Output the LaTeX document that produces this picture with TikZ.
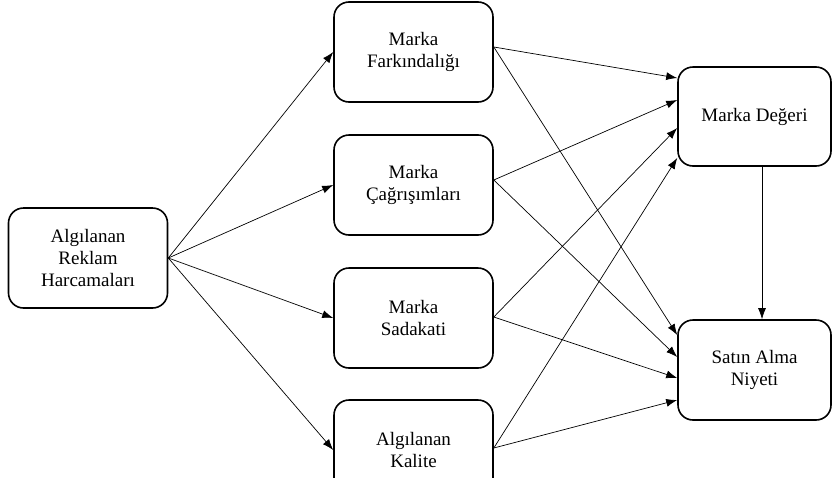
\documentclass[tikz,border=0pt]{standalone}
\usepackage{fontspec}
\setmainfont{Liberation Serif}
\usetikzlibrary{arrows.meta,positioning}

\begin{document}
\begin{tikzpicture}[x=1pt,y=-1pt]
            \tikzstyle{box}=[rectangle, rounded corners=15pt, line width=1.6pt, draw=black, align=center, minimum width=159pt, minimum height=100pt, inner sep=2pt, font=\fontsize{19}{22}\selectfont]
            \tikzstyle{connect}=[line width=0.7pt, -{Latex[length=11pt,width=8pt]}]
            \useasboundingbox (0,0) rectangle (832,477);
            \clip (0,0) rectangle (832,477);
            \node[box] (ARH) at (88,258){Algılanan\\Reklam\\Harcamaları};
            \node[box] (MF) at (413.5,52){Marka\\Farkındalığı};
            \node[box] (MC) at (413.5,185){Marka\\Çağrışımları};
            \node[box] (MS) at (413.5,318){Marka\\Sadakati};
            \node[box] (AK) at (413.5,450){Algılanan\\Kalite};
            \node[box, minimum width=153pt, minimum height=99pt] (MD) at (754.5,116.5){Marka Değeri};
            \node[box, minimum width=153pt] (SAN) at (754.5,370){Satın Alma\\Niyeti};
            % outgoing points of the middle column
            \coordinate (MFo) at ([yshift=5pt]MF.east);
            \coordinate (MCo) at ([yshift=5pt]MC.east);
            \coordinate (MSo) at ([yshift=1pt]MS.east);
            \coordinate (AKo) at ([yshift=2pt]AK.east);
            % incoming points on the right
            \coordinate (MD1) at ([yshift=38.5pt]MD.west);
            \coordinate (MD2) at ([yshift=16.5pt]MD.west);
            \coordinate (MD3) at ([yshift=-11.5pt]MD.west);
            \coordinate (MD4) at ([yshift=-41.5pt]MD.west);
            \coordinate (SA1) at ([yshift=35pt]SAN.west);
            \coordinate (SA2) at ([yshift=13pt]SAN.west);
            \coordinate (SA3) at ([yshift=-8pt]SAN.west);
            \coordinate (SA4) at ([yshift=-30pt]SAN.west);
            \coordinate (MDo) at ([xshift=7.5pt]MD.south);
            \coordinate (SAi) at ([xshift=7.5pt]SAN.north);

            \path (ARH.east) edge [connect] (MF.west);
            \path (ARH.east) edge [connect] (MC.west);
            \path (ARH.east) edge [connect] (MS.west);
            \path (ARH.east) edge [connect] (AK.west);

            \path (MFo) edge [connect] (MD1);
            \path (MCo) edge [connect] (MD2);
            \path (MSo) edge [connect] (MD3);
            \path (AKo) edge [connect] (MD4);

            \path (MFo) edge [connect] (SA1);
            \path (MCo) edge [connect] (SA2);
            \path (MSo) edge [connect] (SA3);
            \path (AKo) edge [connect] (SA4);

            \path (MDo) edge [connect] (SAi);
        \end{tikzpicture}
\end{document}
